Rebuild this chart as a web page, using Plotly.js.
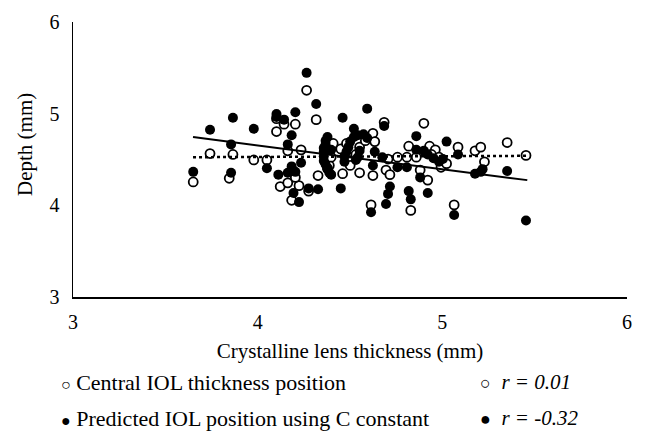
<!DOCTYPE html>
<html>
<head>
<meta charset="utf-8">
<script src="https://cdn.plot.ly/plotly-3.0.1.min.js"></script>
<style>html,body{margin:0;padding:0;background:#fff;}#chart{width:656px;height:447px;}</style>
</head>
<body>
<div id="chart"></div>
<script>
// Central IOL thickness position (open circles)
const openX = [3.651,3.742,3.866,3.846,3.979,4.05,4.102,4.102,4.143,4.204,4.163,4.235,4.122,4.163,4.224,4.204,4.184,4.276,4.265,4.317,4.327,4.388,4.409,4.46,4.45,4.501,4.552,4.552,4.624,4.624,4.614,4.685,4.695,4.716,4.706,4.757,4.808,4.818,4.829,4.9,4.859,4.88,4.921,4.931,4.962,4.993,5.023,5.085,5.064,5.177,5.208,5.228,5.351,5.453,4.378,4.398,4.481,4.532,4.583,4.634,4.941,4.982];
const openY = [4.255,4.565,4.555,4.295,4.495,4.495,4.945,4.805,4.885,4.885,4.595,4.605,4.205,4.245,4.215,4.305,4.055,4.155,5.255,4.935,4.325,4.435,4.675,4.345,4.615,4.435,4.355,4.635,4.785,4.325,4.005,4.905,4.385,4.335,4.505,4.525,4.525,4.645,3.945,4.895,4.525,4.385,4.275,4.645,4.605,4.415,4.455,4.635,4.005,4.595,4.635,4.475,4.685,4.545,4.405,4.525,4.675,4.555,4.705,4.695,4.555,4.525];
// Predicted IOL position using C constant (filled circles)
const filledX = [3.651,3.742,3.866,3.856,3.856,3.979,4.05,4.102,4.102,4.143,4.204,4.184,4.163,4.112,4.163,4.184,4.204,4.235,4.194,4.224,4.276,4.327,4.265,4.317,4.378,4.368,4.368,4.358,4.358,4.358,4.358,4.368,4.378,4.388,4.398,4.398,4.46,4.45,4.521,4.47,4.47,4.481,4.491,4.501,4.521,4.542,4.573,4.593,4.552,4.542,4.532,4.593,4.614,4.624,4.634,4.685,4.675,4.695,4.706,4.716,4.757,4.808,4.818,4.829,4.859,4.859,4.9,4.921,4.952,4.982,5.003,4.88,4.921,5.023,5.085,5.064,5.177,5.208,5.218,5.351,5.453];
const filledY = [4.365,4.825,4.955,4.665,4.355,4.835,4.405,4.995,4.965,4.935,5.015,4.765,4.665,4.335,4.355,4.425,4.365,4.465,4.135,4.035,4.185,4.175,5.445,5.105,4.745,4.705,4.665,4.625,4.585,4.535,4.485,4.445,4.395,4.355,4.335,4.605,4.955,4.185,4.835,4.475,4.535,4.585,4.635,4.695,4.745,4.765,4.775,4.735,4.595,4.525,4.495,5.055,3.925,4.435,4.585,4.865,4.525,4.015,4.125,4.205,4.415,4.415,4.155,4.065,4.755,4.605,4.595,4.555,4.515,4.475,4.505,4.305,4.135,4.695,4.555,3.895,4.345,4.365,4.395,4.375,3.835];
// Trend line end points
const trendX = [3.65, 5.46];
const trendOpenY = [4.525, 4.54];
const trendFilledY = [4.745, 4.275];
const tickVals = [3, 4, 5, 6];
const xTitle = 'Crystalline lens thickness (mm)';
const yTitle = 'Depth (mm)';
const legendLabels = ['Central IOL thickness position', 'Predicted IOL position using C constant'];
const rLabels = ['r = 0.01', 'r = -0.32'];

const FONT = 'Liberation Serif, Times New Roman, serif';

const traces = [
  {x: openX, y: openY, type: 'scatter', mode: 'markers',
   marker: {symbol: 'circle', size: 9, color: '#ffffff', line: {color: '#000', width: 1.8}}},
  {x: filledX, y: filledY, type: 'scatter', mode: 'markers',
   marker: {symbol: 'circle', size: 10, color: '#000', line: {width: 0}}},
  {x: trendX, y: trendOpenY, type: 'scatter', mode: 'lines',
   line: {color: '#000', width: 2.5, dash: 'dot'}},
  {x: trendX, y: trendFilledY, type: 'scatter', mode: 'lines',
   line: {color: '#000', width: 2}}
];

const px = v => (v - 73) / 554;
const py = v => (297 - v) / 275;

const annotations = [
  {xref: 'paper', yref: 'paper', x: px(25), y: py(145), xanchor: 'center', yanchor: 'middle', showarrow: false,
   textangle: -90, text: yTitle, font: {family: FONT, size: 21, color: '#000'}},
  {xref: 'paper', yref: 'paper', x: px(59), y: py(382), xanchor: 'left', yanchor: 'middle', showarrow: false,
   text: '<span style="font-size:16px">○</span> ' + legendLabels[0], font: {family: FONT, size: 22, color: '#000'}},
  {xref: 'paper', yref: 'paper', x: px(59), y: py(418), xanchor: 'left', yanchor: 'middle', showarrow: false,
   text: '<span style="font-size:16px">●</span> ' + legendLabels[1], font: {family: FONT, size: 22, color: '#000'}},
  {xref: 'paper', yref: 'paper', x: px(478), y: py(382), xanchor: 'left', yanchor: 'middle', showarrow: false,
   text: '<span style="font-size:18px">○</span>  <i>' + rLabels[0] + '</i>', font: {family: FONT, size: 21, color: '#000'}},
  {xref: 'paper', yref: 'paper', x: px(478), y: py(418), xanchor: 'left', yanchor: 'middle', showarrow: false,
   text: '<span style="font-size:18px">●</span>  <i>' + rLabels[1] + '</i>', font: {family: FONT, size: 21, color: '#000'}}
];

const layout = {
  width: 656, height: 447,
  margin: {l: 73, r: 29, t: 22, b: 150},
  paper_bgcolor: '#fff', plot_bgcolor: '#fff',
  showlegend: false,
  font: {family: FONT, size: 20, color: '#000'},
  xaxis: {range: [3, 6], tickvals: tickVals, showgrid: false, zeroline: false,
          showline: true, linecolor: '#000', linewidth: 1.5, ticks: '',
          ticklabelstandoff: 6, tickfont: {family: FONT, size: 20},
          title: {text: xTitle, font: {family: FONT, size: 21}, standoff: 12}},
  yaxis: {range: [3, 6], tickvals: tickVals, showgrid: false, zeroline: false,
          showline: true, linecolor: '#000', linewidth: 1.5, ticks: '',
          ticklabelstandoff: 8, tickfont: {family: FONT, size: 20}},
  annotations: annotations
};

Plotly.newPlot('chart', traces, layout, {displayModeBar: false, staticPlot: true});
</script>
</body>
</html>
